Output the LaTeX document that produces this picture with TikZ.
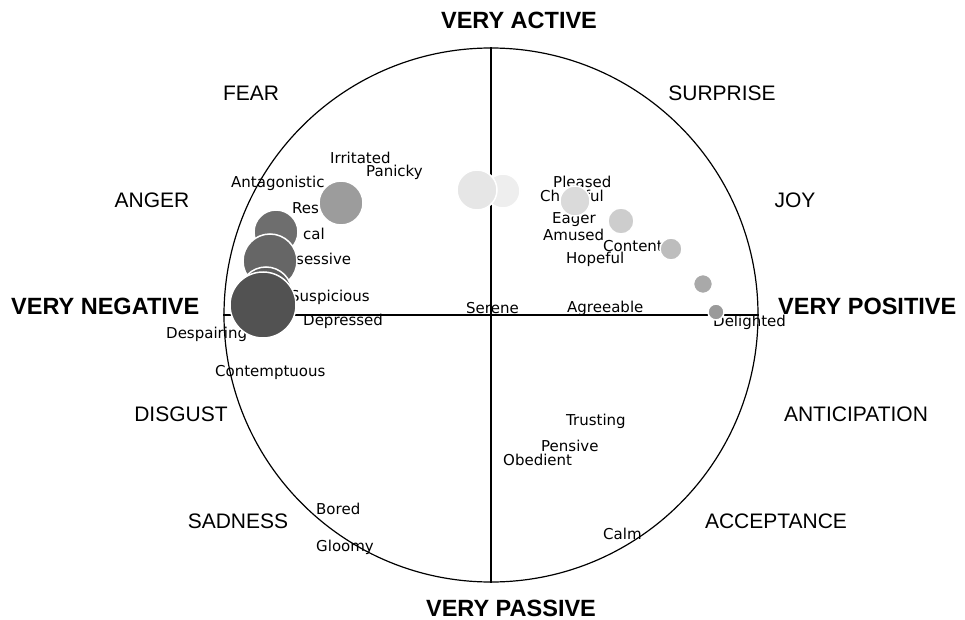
\documentclass[tikz,border=0pt]{standalone}
\usepackage{fontspec}
\setmainfont{DejaVu Sans}
\newfontfamily\catfont{Liberation Sans}
\definecolor{bA}{HTML}{6E6E6E}
\definecolor{bB}{HTML}{666666}
\definecolor{bC}{HTML}{5D5D5D}
\definecolor{bD}{HTML}{525252}
\definecolor{bIrr}{HTML}{9C9C9C}
\definecolor{bSer}{HTML}{E6E6E6}
\definecolor{bSer2}{HTML}{EEEEEE}
\definecolor{bPl}{HTML}{DADADA}
\definecolor{bEa}{HTML}{CDCDCD}
\definecolor{bCo}{HTML}{BDBDBD}
\definecolor{bHo}{HTML}{A9A9A9}
\definecolor{bDe}{HTML}{9A9A9A}
\tikzset{
  lbl/.style={anchor=west, inner sep=0pt, font=\fontsize{15}{17}\selectfont},
  cat/.style={inner sep=0pt, font=\catfont\fontsize{21}{24}\selectfont},
  axislbl/.style={inner sep=0pt, font=\catfont\bfseries\fontsize{23.5}{26}\selectfont},
  bubble/.style={circle, draw=white, line width=1.5pt, inner sep=0pt},
  ring/.style={circle, draw=black, line width=1.2pt, inner sep=0pt, minimum size=534pt},
  axis/.style={draw=black, line width=1.4pt}
}
\begin{document}
\begin{tikzpicture}[x=1pt, y=-1pt]
\useasboundingbox (0,0) rectangle (965,620);
% main circle and axes
\node[ring] (ring) at (491,315) {};
\draw[axis] (ring.north) -- (ring.south);
\draw[axis] (ring.west) -- (ring.east);
% axis labels
\node[axislbl] (active) at (519,20) {VERY ACTIVE};
\node[axislbl] (passive) at (511,608) {VERY PASSIVE};
\node[axislbl, anchor=west] (neg) at (11,306) {VERY NEGATIVE};
\node[axislbl, anchor=west] (pos) at (778,306) {VERY POSITIVE};
% category labels
\node[cat] (fear) at (251,93) {FEAR};
\node[cat] (surprise) at (722,93) {SURPRISE};
\node[cat] (anger) at (152,200) {ANGER};
\node[cat] (joy) at (795,200) {JOY};
\node[cat] (disgust) at (181,414) {DISGUST};
\node[cat] (anticipation) at (856,414) {ANTICIPATION};
\node[cat] (sadness) at (238,521) {SADNESS};
\node[cat] (acceptance) at (776,521) {ACCEPTANCE};
% small labels
\node[lbl] (irritated) at (330,158) {Irritated};
\node[lbl] (panicky) at (366,172) {Panicky};
\node[lbl] (antagonistic) at (231,183) {Antagonistic};
\node[lbl] (res) at (292,208) {Res};
\node[lbl] (cal) at (303,234) {cal};
\node[lbl] (sessive) at (296,259) {sessive};
\node[lbl] (suspicious) at (290,297) {Suspicious};
\node[lbl] (depressed) at (303,321) {Depressed};
\node[lbl] (despairing) at (166,334) {Despairing};
\node[lbl] (contemptuous) at (215,372) {Contemptuous};
\node[lbl] (serene) at (466,308) {Serene};
\node[lbl] (agreeable) at (567,308) {Agreeable};
\node[lbl] (delighted) at (713,322) {Delighted};
\node[lbl] (pleased) at (553,182) {Pleased};
\node[lbl] (cheerful) at (540,196) {Cheerful};
\node[lbl] (eager) at (552,220) {Eager};
\node[lbl] (amused) at (543,235) {Amused};
\node[lbl] (content) at (603,246) {Content};
\node[lbl] (hopeful) at (566,259) {Hopeful};
\node[lbl] (trusting) at (566,421) {Trusting};
\node[lbl] (pensive) at (541,446) {Pensive};
\node[lbl] (obedient) at (503,460) {Obedient};
\node[lbl] (calm) at (603,534) {Calm};
\node[lbl] (bored) at (316,509) {Bored};
\node[lbl] (gloomy) at (316,547) {Gloomy};
% bubbles
\node[bubble, fill=bIrr, minimum size=44pt] (birr) at (341,203) {};
\node[bubble, fill=bA, minimum size=44pt] (ba) at (276,232) {};
\node[bubble, fill=bB, minimum size=54pt] (bb) at (270,261) {};
\node[bubble, fill=bC, minimum size=52pt] (bc) at (266,293) {};
\node[bubble, fill=bD, minimum size=66pt] (bd) at (263,305) {};
\node[bubble, fill=bSer2, minimum size=34pt] (bser2) at (503,191) {};
\node[bubble, fill=bSer, minimum size=40pt] (bser) at (477,190) {};
\node[bubble, fill=bPl, minimum size=30pt] (bpl) at (575,201) {};
\node[bubble, fill=bEa, minimum size=26pt] (bea) at (621,221) {};
\node[bubble, fill=bCo, minimum size=22pt] (bco) at (671,249) {};
\node[bubble, fill=bHo, minimum size=19pt] (bho) at (703,284) {};
\node[bubble, fill=bDe, minimum size=16pt] (bde) at (716,312) {};
\end{tikzpicture}
\end{document}
